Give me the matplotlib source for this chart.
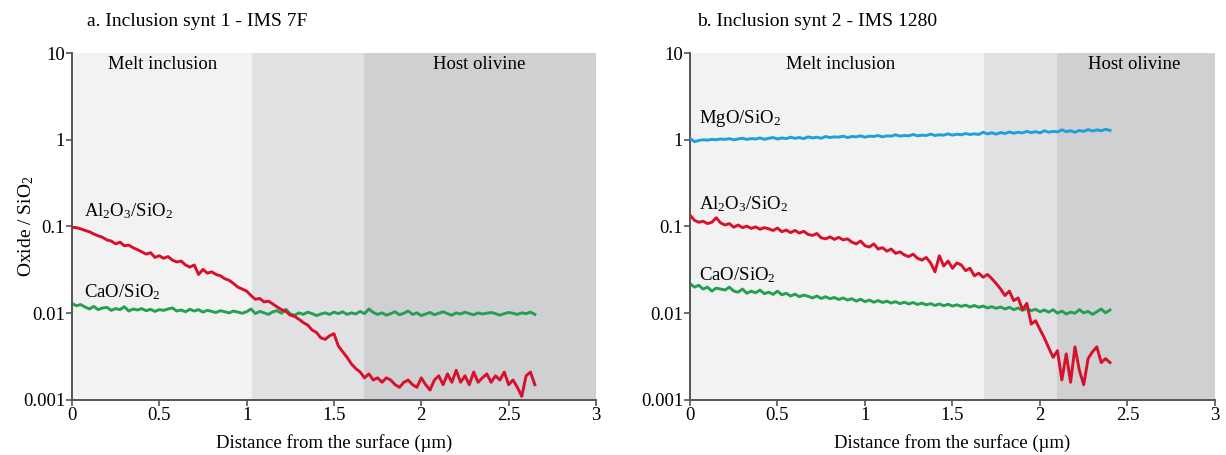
import numpy as np
import matplotlib
matplotlib.use("Agg")
import matplotlib.pyplot as plt

plt.rcParams['font.family'] = ['Liberation Serif', 'DejaVu Serif']
plt.rcParams['mathtext.fontset'] = 'custom'
plt.rcParams['mathtext.rm'] = 'Liberation Serif'
plt.rcParams['mathtext.it'] = 'Liberation Serif:italic'
plt.rcParams['mathtext.default'] = 'regular'

# ---------------- data ----------------
titles = ["a. Inclusion synt 1 - IMS 7F", "b. Inclusion synt 2 - IMS 1280"]
xlabel = "Distance from the surface (\u00b5m)"
ylabel = "Oxide / SiO$_2$"
xticks = [0, 0.5, 1, 1.5, 2, 2.5, 3]
xticklabels = ["0", "0.5", "1", "1.5", "2", "2.5", "3"]
yticks = [0.001, 0.01, 0.1, 1, 10]
yticklabels = ["0.001", "0.01", "0.1", "1", "10"]

# zone boundaries (µm): melt inclusion | transition | host olivine
zones_a = [0.0, 1.03, 1.67, 3.0]
zones_b = [0.0, 1.68, 2.10, 3.0]

# panel a profiles (x from 0 to 2.65 µm)
a_xmax = 2.65
a_al = [0.098, 0.097, 0.094, 0.090, 0.087, 0.082, 0.078, 0.075, 0.070, 0.068,
        0.063, 0.066, 0.060, 0.061, 0.057, 0.054, 0.051, 0.048, 0.050, 0.044,
        0.046, 0.043, 0.045, 0.041, 0.039, 0.040, 0.036, 0.034, 0.036, 0.028,
        0.032, 0.029, 0.030, 0.028, 0.027, 0.025, 0.024, 0.022, 0.020, 0.019,
        0.018, 0.016, 0.0145, 0.0148, 0.0135, 0.0138, 0.0128, 0.0118, 0.0110, 0.0105,
        0.0095, 0.0092, 0.0085, 0.0078, 0.0073, 0.0064, 0.0060, 0.0052, 0.0050, 0.0055,
        0.0058, 0.0042, 0.0036, 0.0031, 0.0026, 0.0023, 0.0021, 0.0018, 0.0020, 0.0017,
        0.0018, 0.0016, 0.0018, 0.0017, 0.0015, 0.0014, 0.0016, 0.0017, 0.0015, 0.0014,
        0.0018, 0.0015, 0.0013, 0.0017, 0.0019, 0.0015, 0.0020, 0.0016, 0.0022, 0.0016,
        0.0019, 0.0015, 0.0021, 0.0016, 0.0018, 0.0020, 0.0016, 0.0019, 0.0017, 0.0021,
        0.0015, 0.0017, 0.0014, 0.0011, 0.0019, 0.0021, 0.0015]
a_ca = [0.0130, 0.0122, 0.0126, 0.0118, 0.0112, 0.0120, 0.0110, 0.0115, 0.0117, 0.0108,
        0.0113, 0.0110, 0.0119, 0.0106, 0.0112, 0.0109, 0.0113, 0.0107, 0.0111, 0.0105,
        0.0110, 0.0108, 0.0112, 0.0115, 0.0106, 0.0109, 0.0104, 0.0111, 0.0106, 0.0110,
        0.0103, 0.0108, 0.0105, 0.0102, 0.0107, 0.0104, 0.0101, 0.0106, 0.0103, 0.0100,
        0.0104, 0.0112, 0.0099, 0.0105, 0.0101, 0.0097, 0.0104, 0.0107, 0.0100, 0.0111,
        0.0098, 0.0095, 0.0101, 0.0097, 0.0103, 0.0099, 0.0094, 0.0098, 0.0101, 0.0097,
        0.0103, 0.0099, 0.0104, 0.0097, 0.0101, 0.0098, 0.0105, 0.0099, 0.0112, 0.0102,
        0.0097, 0.0101, 0.0095, 0.0099, 0.0104, 0.0096, 0.0100, 0.0106, 0.0097, 0.0101,
        0.0094, 0.0098, 0.0102, 0.0096, 0.0100, 0.0104, 0.0099, 0.0095, 0.0101, 0.0098,
        0.0103, 0.0099, 0.0096, 0.0101, 0.0098, 0.0100, 0.0102, 0.0099, 0.0095, 0.0099,
        0.0102, 0.0100, 0.0097, 0.0101, 0.0099, 0.0103, 0.0097]

# panel b profiles (x from 0 to 2.4 µm)
b_xmax = 2.40
b_mg = [1.04, 0.95, 0.98, 1.00, 0.99, 1.01, 1.00, 1.02, 1.01, 1.03,
        1.00, 1.02, 1.04, 1.01, 1.03, 1.02, 1.05, 1.01, 1.04, 1.06,
        1.02, 1.05, 1.03, 1.07, 1.04, 1.06, 1.03, 1.08, 1.05, 1.07,
        1.04, 1.09, 1.06, 1.08, 1.07, 1.10, 1.06, 1.09, 1.08, 1.11,
        1.07, 1.10, 1.09, 1.12, 1.08, 1.11, 1.10, 1.14, 1.10, 1.12,
        1.11, 1.15, 1.11, 1.13, 1.12, 1.16, 1.12, 1.14, 1.13, 1.17,
        1.13, 1.16, 1.14, 1.18, 1.15, 1.17, 1.15, 1.22, 1.17, 1.20,
        1.16, 1.21, 1.18, 1.23, 1.19, 1.22, 1.20, 1.25, 1.21, 1.24,
        1.20, 1.27, 1.22, 1.25, 1.23, 1.30, 1.24, 1.27, 1.22, 1.28,
        1.25, 1.31, 1.26, 1.30, 1.27, 1.32, 1.28]
b_al = [0.135, 0.118, 0.112, 0.115, 0.108, 0.112, 0.126, 0.110, 0.104, 0.108,
        0.098, 0.104, 0.097, 0.101, 0.095, 0.099, 0.093, 0.097, 0.094, 0.090,
        0.096, 0.087, 0.091, 0.085, 0.090, 0.084, 0.088, 0.081, 0.079, 0.083,
        0.074, 0.072, 0.076, 0.071, 0.075, 0.070, 0.072, 0.066, 0.063, 0.068,
        0.060, 0.058, 0.063, 0.055, 0.057, 0.052, 0.055, 0.049, 0.051, 0.047,
        0.045, 0.048, 0.043, 0.041, 0.044, 0.038, 0.030, 0.046, 0.035, 0.040,
        0.033, 0.038, 0.036, 0.031, 0.033, 0.027, 0.029, 0.026, 0.028, 0.025,
        0.022, 0.019, 0.016, 0.018, 0.014, 0.015, 0.011, 0.013, 0.0075, 0.0082,
        0.0065, 0.0052, 0.0040, 0.0031, 0.0037, 0.0017, 0.0034, 0.0016, 0.0041, 0.0022,
        0.0015, 0.0030, 0.0036, 0.0041, 0.0027, 0.0030, 0.0027]
b_ca = [0.022, 0.020, 0.021, 0.019, 0.020, 0.018, 0.0195, 0.019, 0.0185, 0.020,
        0.018, 0.0175, 0.019, 0.017, 0.018, 0.0172, 0.0185, 0.0168, 0.0175, 0.0165,
        0.018, 0.0163, 0.0170, 0.0158, 0.0166, 0.0155, 0.0162, 0.0157, 0.0150, 0.0158,
        0.0148, 0.0155, 0.0147, 0.0152, 0.0144, 0.0150, 0.0142, 0.0147, 0.0138, 0.0145,
        0.0136, 0.0142, 0.0134, 0.0140, 0.0133, 0.0138, 0.0131, 0.0136, 0.0129, 0.0134,
        0.0128, 0.0133, 0.0126, 0.0131, 0.0125, 0.0129, 0.0123, 0.0128, 0.0122, 0.0127,
        0.0121, 0.0125, 0.0120, 0.0124, 0.0118, 0.0123, 0.0117, 0.0121, 0.0115, 0.0119,
        0.0114, 0.0118, 0.0112, 0.0117, 0.0110, 0.0115, 0.0108, 0.0113, 0.0107, 0.0111,
        0.0104, 0.0109, 0.0103, 0.0110, 0.0100, 0.0106, 0.0098, 0.0103, 0.0100, 0.0110,
        0.0101, 0.0105, 0.0097, 0.0104, 0.0112, 0.0101, 0.0109]

# ---------------- style ----------------
zone_colors = ["#f2f2f2", "#e1e1e3", "#cfd0d2"]
c_red = "#d8102c"
c_green = "#25a052"
c_blue = "#1fa0da"
spine_c = "#555555"
lw = 2.1

fig = plt.figure(figsize=(12.26, 4.55), dpi=100)
axA = fig.add_axes([0.0587, 0.1209, 0.4274, 0.7626])
axB = fig.add_axes([0.5628, 0.1209, 0.4282, 0.7626])


def style(ax, zones):
    for i in range(3):
        ax.axvspan(zones[i], zones[i + 1], color=zone_colors[i], lw=0, zorder=0)
    ax.set_yscale('log')
    ax.set_xlim(0, 3)
    ax.set_ylim(0.001, 10)
    ax.set_xticks(xticks)
    ax.set_xticklabels(xticklabels)
    ax.set_yticks(yticks)
    ax.set_yticklabels(yticklabels)
    ax.minorticks_off()
    for s in ['top', 'right']:
        ax.spines[s].set_visible(False)
    for s in ['left', 'bottom']:
        ax.spines[s].set_color(spine_c)
        ax.spines[s].set_linewidth(1.4)
    ax.tick_params(axis='both', direction='out', length=4, width=1.2,
                   color=spine_c, labelsize=13.5, pad=1)
    ax.set_xlabel(xlabel, fontsize=13.5, labelpad=7)


style(axA, zones_a)
style(axB, zones_b)

xa = np.linspace(0, a_xmax, len(a_al))
xca = np.linspace(0, a_xmax, len(a_ca))
axA.plot(xa, a_al, color=c_red, lw=lw, zorder=3)
axA.plot(xca, a_ca, color=c_green, lw=lw, zorder=2)

xbm = np.linspace(0, b_xmax, len(b_mg))
xba = np.linspace(0, b_xmax, len(b_al))
xbc = np.linspace(0, b_xmax, len(b_ca))
axB.plot(xbm, b_mg, color=c_blue, lw=lw, zorder=3)
axB.plot(xba, b_al, color=c_red, lw=lw, zorder=3)
axB.plot(xbc, b_ca, color=c_green, lw=lw, zorder=2)

axA.set_ylabel(ylabel, fontsize=14)
axA.yaxis.set_label_coords(-0.068, 0.5)

fs = 13.5
# zone labels
axA.text(0.52, 7.4, "Melt inclusion", ha='center', va='center', fontsize=fs)
axA.text(2.33, 7.4, "Host olivine", ha='center', va='center', fontsize=fs)
axB.text(0.86, 7.4, "Melt inclusion", ha='center', va='center', fontsize=fs)
axB.text(2.54, 7.4, "Host olivine", ha='center', va='center', fontsize=fs)

# series labels
axA.text(0.07, 0.15, "Al$_2$O$_3$/SiO$_2$", ha='left', va='center', fontsize=fs)
axA.text(0.07, 0.0175, "CaO/SiO$_2$", ha='left', va='center', fontsize=fs)
axB.text(0.05, 1.75, "MgO/SiO$_2$", ha='left', va='center', fontsize=fs)
axB.text(0.05, 0.18, "Al$_2$O$_3$/SiO$_2$", ha='left', va='center', fontsize=fs)
axB.text(0.05, 0.0275, "CaO/SiO$_2$", ha='left', va='center', fontsize=fs)

# titles
fig.text(87 / 1226, 1 - 21 / 455, titles[0], ha='left', va='center', fontsize=14)
fig.text(697 / 1226, 1 - 21 / 455, titles[1], ha='left', va='center', fontsize=14)

fig.savefig("out.png", dpi=100)
